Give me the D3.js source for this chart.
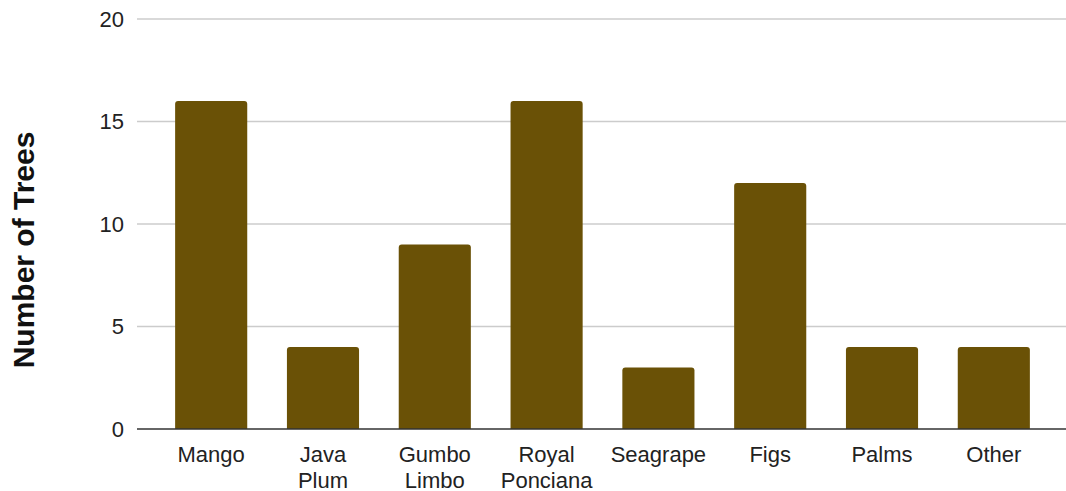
<!DOCTYPE html>
<html><head><meta charset="utf-8">
<script src="https://cdn.jsdelivr.net/npm/d3@7"></script>
<style>body{margin:0;background:#fff}svg{display:block}</style>
</head><body>
<svg id="c" width="1066" height="491"></svg>
<script>
const categories = [["Mango"],["Java","Plum"],["Gumbo","Limbo"],["Royal","Ponciana"],["Seagrape"],["Figs"],["Palms"],["Other"]];
const values = [16, 4, 9, 16, 3, 12, 4, 4];
const yTicks = [0, 5, 10, 15, 20];
const yTitle = "Number of Trees";

const svg = d3.select("#c");
const gridLeft = 137, gridRight = 1066;
const x = d3.scaleBand().domain(categories.map((d,i)=>i)).range([155, 1050]).paddingInner(0.355).paddingOuter(0.18);
const y = d3.scaleLinear().domain([0, 20]).range([429, 19]);
const font = "'Liberation Sans', Arial, sans-serif";

svg.append("g").selectAll("line").data(yTicks.filter(t=>t>0)).join("line")
  .attr("x1", gridLeft).attr("x2", gridRight)
  .attr("y1", d=>y(d)).attr("y2", d=>y(d))
  .attr("stroke", "#cccccc").attr("stroke-width", 1.3);

svg.append("g").selectAll("text").data(yTicks).join("text")
  .attr("x", 124).attr("y", d=>y(d)).attr("dy", "0.35em")
  .attr("text-anchor", "end").attr("font-family", font).attr("font-size", 22).attr("fill", "#222")
  .text(d=>d);

const r = 3;
svg.append("g").selectAll("path").data(values).join("path")
  .attr("fill", "#6a5106")
  .attr("d", (d,i)=>{
    const x0 = x(i), w = x.bandwidth(), y0 = y(d), y1 = y(0);
    return `M${x0},${y1}V${y0+r}Q${x0},${y0} ${x0+r},${y0}H${x0+w-r}Q${x0+w},${y0} ${x0+w},${y0+r}V${y1}Z`;
  });

svg.append("line").attr("x1", gridLeft).attr("x2", gridRight).attr("y1", y(0)).attr("y2", y(0))
  .attr("stroke", "#333").attr("stroke-width", 1.5);

const xl = svg.append("g").selectAll("text").data(categories).join("text")
  .attr("x", (d,i)=>x(i)+x.bandwidth()/2).attr("y", 462)
  .attr("text-anchor", "middle").attr("font-family", font).attr("font-size", 22).attr("fill", "#222");
xl.selectAll("tspan").data(d=>d).join("tspan")
  .attr("x", function(){return this.parentNode.getAttribute("x");})
  .attr("dy", (d,j)=>j===0?0:25.5).text(d=>d);

svg.append("text").attr("transform", "translate(34,250) rotate(-90)")
  .attr("text-anchor", "middle").attr("font-family", font).attr("font-size", 30).attr("font-weight", "bold")
  .attr("fill", "#111").text(yTitle);
</script>
</body></html>
